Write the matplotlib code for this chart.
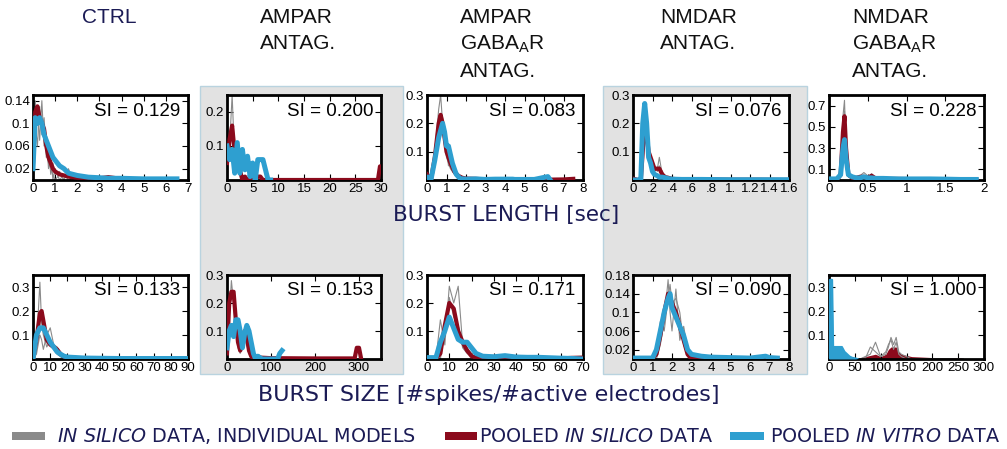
import numpy as np
import matplotlib
matplotlib.use('Agg')
import matplotlib.pyplot as plt
from matplotlib.patches import Rectangle

# ---- data (bin centres / probabilities) ----
# burst length, CTRL
len_ctrl_x = [0, 0.1, 0.2, 0.3, 0.4, 0.5, 0.6, 0.7, 0.8, 0.9, 1.0, 1.2, 1.4, 1.6, 1.8, 2.0, 2.5, 3.0, 3.4, 3.6, 4.0, 5.0, 6.0, 6.5]
len_ctrl_red = [0.03, 0.12, 0.13, 0.11, 0.10, 0.09, 0.06, 0.04, 0.03, 0.02, 0.015, 0.01, 0.008, 0.006, 0.005, 0.004, 0.004, 0.003, 0.005, 0.004, 0.002, 0.001, 0.001, 0.0]
len_ctrl_blue = [0.02, 0.11, 0.10, 0.11, 0.10, 0.08, 0.07, 0.06, 0.05, 0.04, 0.035, 0.025, 0.02, 0.012, 0.01, 0.008, 0.005, 0.004, 0.003, 0.003, 0.003, 0.002, 0.002, 0.002]
len_ctrl_gray = [
    [0.0, 0.14, 0.10, 0.12, 0.09, 0.11, 0.05, 0.03, 0.02, 0.01, 0.0, 0.01, 0.0, 0.02, 0.0, 0.0, 0, 0, 0, 0, 0, 0, 0, 0],
    [0.05, 0.08, 0.13, 0.07, 0.14, 0.06, 0.08, 0.02, 0.04, 0.0, 0.02, 0.0, 0.01, 0.0, 0.005, 0, 0, 0, 0, 0, 0, 0, 0, 0],
    [0.02, 0.10, 0.06, 0.13, 0.08, 0.10, 0.04, 0.06, 0.01, 0.03, 0.01, 0.015, 0, 0, 0, 0.01, 0, 0, 0, 0, 0, 0, 0, 0],
]

# burst length, AMPAR antag.
len_ampa_x = [0, 0.5, 1, 1.5, 2, 2.5, 3, 3.5, 4, 5, 5.5, 6, 6.5, 7, 8, 10, 15, 20, 25, 29.4, 29.8, 30]
len_ampa_red = [0.05, 0.12, 0.16, 0.08, 0.04, 0.03, 0.0, 0.01, 0.0, 0.0, 0.0, 0.01, 0.01, 0.0, 0.0, 0.0, 0.0, 0.0, 0.0, 0.0, 0.04, 0.04]
len_ampa_gray = [
    [0.03, 0.10, 0.25, 0.06, 0.05, 0.02, 0.0, 0.0, 0.0, 0.0, 0.0, 0.0, 0.0, 0.0, 0.0, 0.0, 0.0, 0.0, 0.0, 0.0, 0.03, 0.03],
]
len_ampa_bx = [0, 0.5, 1, 1.5, 2, 2.5, 3, 3.5, 4, 4.5, 5, 5.5, 6, 6.5, 7, 7.5, 8, 8.5]
len_ampa_blue = [0.1, 0.06, 0.09, 0.02, 0.11, 0.02, 0.09, 0.03, 0.07, 0.01, 0.05, 0.0, 0.06, 0.06, 0.06, 0.03, 0.0, 0.0]

# burst length, AMPAR + GABAaR antag.
len_ag_x = [0, 0.2, 0.4, 0.6, 0.7, 0.8, 1.0, 1.1, 1.2, 1.4, 1.6, 1.8, 2.0, 2.5, 3, 4, 5, 6, 7, 7.5]
len_ag_red = [0.02, 0.0, 0.08, 0.2, 0.23, 0.2, 0.1, 0.08, 0.06, 0.03, 0.015, 0.008, 0.005, 0.004, 0.002, 0.001, 0.001, 0.001, 0.002, 0.004]
len_ag_gray = [
    [0.0, 0.0, 0.1, 0.25, 0.3, 0.2, 0.08, 0.06, 0.04, 0.02, 0.01, 0, 0, 0, 0, 0, 0, 0, 0, 0],
    [0.0, 0.0, 0.05, 0.18, 0.2, 0.22, 0.12, 0.05, 0.07, 0.03, 0.0, 0, 0, 0, 0, 0, 0, 0, 0, 0],
]
len_ag_bx = [0, 0.1, 0.2, 0.4, 0.6, 0.8, 0.9, 1.0, 1.1, 1.2, 1.3, 1.5, 1.7, 2.0, 2.5, 3.0, 3.5, 4.4, 4.5, 5.5, 6.2, 6.3]
len_ag_blue = [0.01, 0.01, 0.0, 0.07, 0.15, 0.2, 0.17, 0.12, 0.12, 0.09, 0.06, 0.02, 0.005, 0.003, 0.004, 0.002, 0.003, 0.003, 0.002, 0.002, 0.012, 0.002]

# burst length, NMDAR antag.
len_nmda_x = [0, 0.05, 0.08, 0.1, 0.12, 0.14, 0.16, 0.18, 0.2, 0.22, 0.25, 0.27, 0.3, 0.33, 0.36, 0.4, 0.5, 0.7, 1.0, 1.3, 1.6]
len_nmda_red = [0.005, 0.0, 0.0, 0.1, 0.2, 0.16, 0.1, 0.08, 0.06, 0.04, 0.04, 0.04, 0.02, 0.01, 0.008, 0.004, 0.002, 0.002, 0.001, 0.001, 0.0]
len_nmda_blue = [0.0, 0.0, 0.0, 0.2, 0.27, 0.2, 0.08, 0.06, 0.03, 0.02, 0.015, 0.01, 0.01, 0.008, 0.005, 0.003, 0.002, 0.002, 0.001, 0.001, 0.001]
len_nmda_gray = [
    [0.0, 0.0, 0.0, 0.12, 0.22, 0.12, 0.09, 0.09, 0.05, 0.03, 0.04, 0.08, 0.02, 0.01, 0.0, 0.0, 0, 0, 0, 0, 0],
    [0.0, 0.0, 0.0, 0.08, 0.18, 0.15, 0.12, 0.06, 0.07, 0.05, 0.03, 0.05, 0.03, 0.0, 0.01, 0.0, 0, 0, 0, 0, 0],
]

# burst length, NMDAR + GABAaR antag.
len_ng_x = [0, 0.1, 0.15, 0.18, 0.2, 0.22, 0.25, 0.3, 0.35, 0.4, 0.45, 0.5, 0.55, 0.6, 0.7, 0.9, 1.1, 1.3, 1.5, 1.7, 1.9]
len_ng_red = [0.0, 0.0, 0.05, 0.45, 0.6, 0.3, 0.05, 0.02, 0.02, 0.03, 0.03, 0.02, 0.04, 0.015, 0.01, 0.01, 0.008, 0.008, 0.005, 0.003, 0.002]
len_ng_blue = [0.01, 0.01, 0.05, 0.3, 0.38, 0.2, 0.05, 0.03, 0.02, 0.02, 0.03, 0.02, 0.02, 0.015, 0.015, 0.01, 0.01, 0.01, 0.008, 0.005, 0.005]
len_ng_gray = [
    [0.0, 0.0, 0.1, 0.6, 0.75, 0.3, 0.05, 0.02, 0.01, 0.04, 0.07, 0.04, 0.01, 0.01, 0.0, 0, 0, 0, 0, 0, 0],
    [0.0, 0.0, 0.05, 0.5, 0.65, 0.35, 0.03, 0.01, 0.0, 0.02, 0.03, 0.02, 0.06, 0.01, 0.0, 0, 0, 0, 0, 0, 0],
]

# burst size, CTRL
size_ctrl_x = [0, 2, 4, 5, 6, 8, 10, 12, 14, 16, 18, 20, 25, 30, 40, 50, 60, 70, 80, 90]
size_ctrl_red = [0.0, 0.08, 0.19, 0.2, 0.16, 0.08, 0.06, 0.05, 0.04, 0.02, 0.01, 0.006, 0.004, 0.003, 0.002, 0.001, 0.001, 0.001, 0.001, 0.001]
size_ctrl_blue = [0.0, 0.1, 0.13, 0.13, 0.13, 0.1, 0.07, 0.05, 0.03, 0.02, 0.012, 0.008, 0.006, 0.004, 0.003, 0.002, 0.002, 0.002, 0.002, 0.002]
size_ctrl_gray = [
    [0.0, 0.05, 0.32, 0.15, 0.1, 0.05, 0.08, 0.04, 0.02, 0.01, 0.0, 0, 0, 0, 0, 0, 0, 0, 0, 0],
    [0.0, 0.02, 0.1, 0.08, 0.04, 0.1, 0.13, 0.06, 0.05, 0.01, 0.0, 0, 0, 0, 0, 0, 0, 0, 0, 0],
]

# burst size, AMPAR antag.
size_ampa_x = [0, 5, 10, 15, 20, 25, 30, 35, 40, 45, 50, 55, 60, 70, 75, 100, 200, 290, 295, 300, 305]
size_ampa_red = [0.02, 0.2, 0.24, 0.24, 0.14, 0.06, 0.03, 0.05, 0.1, 0.08, 0.03, 0.01, 0.0, 0.01, 0.005, 0.003, 0.002, 0.002, 0.04, 0.04, 0.0]
size_ampa_gray = [
    [0.0, 0.15, 0.28, 0.2, 0.1, 0.04, 0.02, 0.06, 0.08, 0.05, 0.02, 0.0, 0.0, 0.0, 0.0, 0.0, 0.0, 0.0, 0.03, 0.03, 0.0],
]
size_ampa_bx = [0, 5, 10, 15, 20, 25, 30, 35, 40, 45, 50, 55, 60, 65, 70, 80, 100, 115, 120, 125]
size_ampa_blue = [0.04, 0.1, 0.12, 0.08, 0.14, 0.14, 0.1, 0.04, 0.09, 0.12, 0.1, 0.06, 0.02, 0.0, 0.01, 0.0, 0.0, 0.0, 0.02, 0.03]

# burst size, AMPAR + GABAaR antag.
size_ag_x = [0, 2, 4, 6, 8, 10, 12, 14, 16, 18, 20, 22, 25, 30, 35, 40, 45, 50, 60, 65, 70]
size_ag_red = [0.0, 0.0, 0.0, 0.02, 0.12, 0.2, 0.18, 0.1, 0.06, 0.03, 0.01, 0.005, 0.003, 0.002, 0.002, 0.002, 0.002, 0.002, 0.002, 0.004, 0.005]
size_ag_blue = [0.005, 0.005, 0.005, 0.06, 0.1, 0.15, 0.11, 0.07, 0.06, 0.06, 0.04, 0.02, 0.01, 0.008, 0.012, 0.007, 0.006, 0.006, 0.003, 0.002, 0.0]
size_ag_gray = [
    [0.0, 0.0, 0.0, 0.14, 0.05, 0.26, 0.2, 0.26, 0.05, 0.04, 0.02, 0.0, 0, 0, 0, 0, 0, 0, 0, 0, 0],
    [0.0, 0.0, 0.0, 0.0, 0.1, 0.22, 0.15, 0.12, 0.04, 0.02, 0.01, 0.0, 0, 0, 0, 0, 0, 0, 0, 0, 0],
]

# burst size, NMDAR antag.
size_nmda_x = [0, 0.5, 1.0, 1.2, 1.4, 1.6, 1.8, 1.9, 2.0, 2.2, 2.4, 2.6, 2.8, 3.0, 3.5, 4.0, 5.0, 6.0, 6.8, 7.0, 7.4]
size_nmda_red = [0.002, 0.002, 0.002, 0.01, 0.05, 0.1, 0.14, 0.13, 0.12, 0.1, 0.07, 0.04, 0.01, 0.0, 0.0, 0.0, 0.0, 0.0, 0.0, 0.0, 0.0]
size_nmda_blue = [0.002, 0.002, 0.002, 0.02, 0.06, 0.1, 0.13, 0.14, 0.11, 0.09, 0.07, 0.05, 0.02, 0.01, 0.006, 0.004, 0.003, 0.002, 0.006, 0.003, 0.002]
size_nmda_gray = [
    [0.0, 0.0, 0.0, 0.0, 0.03, 0.08, 0.17, 0.1, 0.06, 0.15, 0.04, 0.07, 0.02, 0.0, 0, 0, 0, 0, 0, 0, 0],
    [0.0, 0.0, 0.0, 0.01, 0.08, 0.06, 0.13, 0.16, 0.12, 0.13, 0.1, 0.03, 0.01, 0.0, 0, 0, 0, 0, 0, 0, 0],
]

# burst size, NMDAR + GABAaR antag.
size_ng_x = [50, 60, 70, 80, 90, 100, 110, 115, 120, 125, 130, 135, 140, 150, 160, 180, 200, 220, 240, 255, 260]
size_ng_red = [0.0, 0.005, 0.01, 0.015, 0.02, 0.01, 0.02, 0.04, 0.05, 0.05, 0.05, 0.03, 0.02, 0.015, 0.01, 0.008, 0.006, 0.005, 0.005, 0.006, 0.0]
size_ng_gray = [
    [0.0, 0.0, 0.01, 0.02, 0.07, 0.01, 0.02, 0.05, 0.09, 0.06, 0.09, 0.03, 0.02, 0.01, 0.0, 0, 0, 0, 0, 0, 0],
    [0.0, 0.0, 0.0, 0.05, 0.03, 0.01, 0.03, 0.06, 0.08, 0.04, 0.07, 0.02, 0.01, 0.0, 0.0, 0, 0, 0, 0, 0, 0],
]
size_ng_bx = [0, 2, 6, 8, 12, 20, 25, 30, 35, 40, 45, 50, 55]
size_ng_blue = [0.0, 0.33, 0.33, 0.05, 0.05, 0.05, 0.05, 0.03, 0.02, 0.01, 0.005, 0.003, 0.0]

si_values = ['0.129', '0.200', '0.083', '0.076', '0.228', '0.133', '0.153', '0.171', '0.090', '1.000']
col_titles = ['CTRL', 'AMPAR\nANTAG.', 'AMPAR\nGABA$\\mathregular{_A}$R\nANTAG.',
              'NMDAR\nANTAG.', 'NMDAR\nGABA$\\mathregular{_A}$R\nANTAG.']

RED = '#8b0a1c'
BLUE = '#2e9fd0'
GRAY = '#8a8a8a'
NAVY = '#1b1b55'

plt.rcParams['font.family'] = 'Liberation Sans'
plt.rcParams['mathtext.fontset'] = 'custom'
plt.rcParams['mathtext.rm'] = 'DejaVu Sans'
plt.rcParams['mathtext.it'] = 'DejaVu Sans:italic'
plt.rcParams['xtick.direction'] = 'in'
plt.rcParams['ytick.direction'] = 'in'
plt.rcParams['xtick.top'] = True
plt.rcParams['ytick.right'] = True

W, H = 1007, 449
fig = plt.figure(figsize=(W / 100, H / 100), dpi=100)

# gray background panels behind columns 2 and 4
for x0, x1 in [(200, 403), (603, 807)]:
    fig.patches.append(Rectangle((x0 / W, 1 - 374 / H), (x1 - x0) / W, (374 - 86) / H,
                                 transform=fig.transFigure, facecolor='#e2e2e2',
                                 edgecolor='#b9d3df', lw=1, zorder=-5))

cols = [(33, 188), (227, 381), (427, 583), (633, 789), (829, 984)]
rows = [(95, 180), (275, 359)]


def px_axes(c, r):
    l, rr = cols[c]
    t, b = rows[r]
    return fig.add_axes([l / W, 1 - b / H, (rr - l) / W, (b - t) / H])


def panel(ax, rx, red, gray, bx, blue, xlim, xticks, xlabels, ylim, yticks, ylabels, si, filled=False):
    for g in gray:
        ax.plot(rx, g, color=GRAY, lw=0.8, zorder=2)
    if filled:
        ax.fill_between(rx, red, color=RED, lw=0, zorder=1)
        ax.fill_between(bx, blue, color=BLUE, lw=0, zorder=3)
        ax.plot(bx, blue, color=BLUE, lw=1.5, zorder=3)
    else:
        ax.plot(rx, red, color=RED, lw=3, zorder=3, solid_joinstyle='round')
        ax.plot(bx, blue, color=BLUE, lw=3.6, zorder=4, solid_joinstyle='round')
    ax.set_xlim(*xlim)
    ax.set_ylim(*ylim)
    ax.set_xticks(xticks)
    ax.set_xticklabels(xlabels, fontsize=9.5)
    ax.set_yticks(yticks)
    ax.set_yticklabels(ylabels, fontsize=9.5)
    ax.tick_params(length=4, width=0.8, pad=2)
    for s in ax.spines.values():
        s.set_linewidth(2)
    ax.text(0.95, 0.81, 'SI = ' + si, transform=ax.transAxes, ha='right', va='center',
            fontsize=13.5, zorder=6)


# burst length row
a = px_axes(0, 0)
panel(a, len_ctrl_x, len_ctrl_red, len_ctrl_gray, len_ctrl_x, len_ctrl_blue, (0, 7), range(8),
      [str(i) for i in range(8)], (0, 0.15), [0.02, 0.06, 0.1, 0.14], ['0.02', '0.06', '0.1', '0.14'], si_values[0])
a = px_axes(1, 0)
panel(a, len_ampa_x, len_ampa_red, len_ampa_gray, len_ampa_bx, len_ampa_blue, (0, 30), range(0, 31, 5),
      [str(i) for i in range(0, 31, 5)], (0, 0.25), [0.1, 0.2], ['0.1', '0.2'], si_values[1])
a = px_axes(2, 0)
panel(a, len_ag_x, len_ag_red, len_ag_gray, len_ag_bx, len_ag_blue, (0, 8), range(9),
      [str(i) for i in range(9)], (0, 0.3), [0.1, 0.2, 0.3], ['0.1', '0.2', '0.3'], si_values[2])
a = px_axes(3, 0)
panel(a, len_nmda_x, len_nmda_red, len_nmda_gray, len_nmda_x, len_nmda_blue, (0, 1.6),
      [0, 0.2, 0.4, 0.6, 0.8, 1.0, 1.2, 1.4, 1.6], ['0', '.2', '.4', '.6', '.8', '1.', '1.2', '1.4', '1.6'],
      (0, 0.3), [0.1, 0.2, 0.3], ['0.1', '0.2', '0.3'], si_values[3])
a = px_axes(4, 0)
panel(a, len_ng_x, len_ng_red, len_ng_gray, len_ng_x, len_ng_blue, (0, 2), [0, 0.5, 1, 1.5, 2],
      ['0', '0.5', '1', '1.5', '2'], (0, 0.8), [0.1, 0.3, 0.5, 0.7], ['0.1', '0.3', '0.5', '0.7'], si_values[4])

# burst size row
a = px_axes(0, 1)
panel(a, size_ctrl_x, size_ctrl_red, size_ctrl_gray, size_ctrl_x, size_ctrl_blue, (0, 90), range(0, 91, 10),
      [str(i) for i in range(0, 91, 10)], (0, 0.35), [0.1, 0.2, 0.3], ['0.1', '0.2', '0.3'], si_values[5])
a = px_axes(1, 1)
panel(a, size_ampa_x, size_ampa_red, size_ampa_gray, size_ampa_bx, size_ampa_blue, (0, 350), [0, 100, 200, 300],
      ['0', '100', '200', '300'], (0, 0.3), [0.1, 0.2, 0.3], ['0.1', '0.2', '0.3'], si_values[6])
a = px_axes(2, 1)
panel(a, size_ag_x, size_ag_red, size_ag_gray, size_ag_x, size_ag_blue, (0, 70), range(0, 71, 10),
      [str(i) for i in range(0, 71, 10)], (0, 0.3), [0.1, 0.2, 0.3], ['0.1', '0.2', '0.3'], si_values[7])
a = px_axes(3, 1)
panel(a, size_nmda_x, size_nmda_red, size_nmda_gray, size_nmda_x, size_nmda_blue, (0, 8), range(9),
      [str(i) for i in range(9)], (0, 0.18), [0.02, 0.06, 0.1, 0.14, 0.18],
      ['0.02', '0.06', '0.1', '0.14', '0.18'], si_values[8])
a = px_axes(4, 1)
panel(a, size_ng_x, size_ng_red, size_ng_gray, size_ng_bx, size_ng_blue, (0, 300), range(0, 301, 50),
      [str(i) for i in range(0, 301, 50)], (0, 0.35), [0.1, 0.2, 0.3], ['0.1', '0.2', '0.3'], si_values[9],
      filled=True)

# column titles
for (x, c), t in zip([(82, NAVY), (260, '#111111'), (460, '#111111'), (660, '#111111'), (852, '#111111')], col_titles):
    fig.text(x / W, 1 - 8 / H, t, ha='left', va='top', fontsize=15, color=c, linespacing=1.45)

# axis labels between rows
fig.text(506 / W, 1 - 215 / H, 'BURST LENGTH [sec]', ha='center', va='center',
         fontsize=15.5, color=NAVY, family='DejaVu Sans', zorder=10)
fig.text(489 / W, 1 - 395 / H, 'BURST SIZE [#spikes/#active electrodes]', ha='center', va='center',
         fontsize=16, color=NAVY, family='DejaVu Sans')

# legend
leg_items = [(GRAY, 12, 45, 57, r'$\mathit{IN\ SILICO}$ DATA, INDIVIDUAL MODELS'),
             (RED, 445, 477, 479, r'POOLED $\mathit{IN\ SILICO}$ DATA'),
             (BLUE, 730, 764, 770, r'POOLED $\mathit{IN\ VITRO}$ DATA')]
for col, p0, p1, tx, label in leg_items:
    fig.patches.append(Rectangle((p0 / W, 1 - 440 / H), (p1 - p0) / W, 8 / H,
                                 transform=fig.transFigure, facecolor=col, lw=0))
    fig.text(tx / W, 1 - 436 / H, label, ha='left', va='center', fontsize=13.8, color=NAVY,
             family='DejaVu Sans')

fig.savefig('out.png', dpi=100)
